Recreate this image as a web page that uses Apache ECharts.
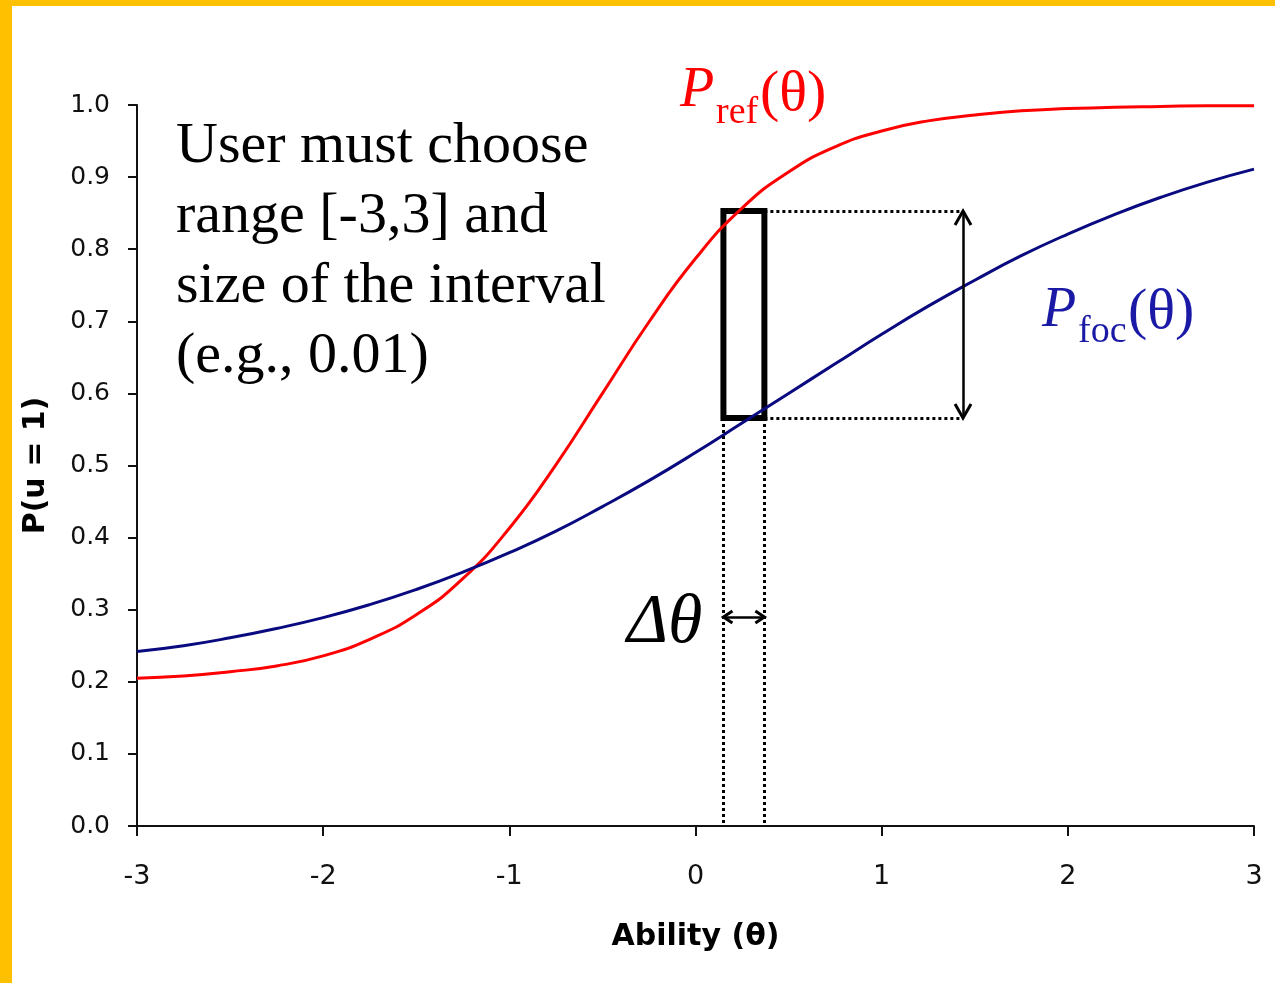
<!DOCTYPE html>
<html>
<head>
<meta charset="utf-8">
<script src="https://cdn.jsdelivr.net/npm/echarts@6/dist/echarts.min.js"></script>
<style>
  html, body { margin: 0; padding: 0; background: #ffffff; }
  #chart { width: 1275px; height: 983px; }
</style>
</head>
<body>
<div id="chart"></div>
<script>
// ---- data ----
const theta = [-3, -2.75, -2.5, -2.25, -2, -1.75, -1.5, -1.25, -1, -0.75, -0.5, -0.25,
               0, 0.25, 0.5, 0.75, 1, 1.25, 1.5, 1.75, 2, 2.25, 2.5, 2.75, 3];
const pRef = [0.205, 0.208, 0.214, 0.222, 0.236, 0.259, 0.293, 0.343, 0.413, 0.501, 0.600, 0.699,
              0.787, 0.857, 0.907, 0.942, 0.964, 0.978, 0.986, 0.992, 0.995, 0.997, 0.998, 0.999, 0.999];
const pFoc = [0.242, 0.250, 0.261, 0.274, 0.289, 0.307, 0.328, 0.352, 0.379, 0.409, 0.443, 0.479,
              0.518, 0.559, 0.600, 0.641, 0.682, 0.721, 0.757, 0.791, 0.821, 0.848, 0.872, 0.893, 0.911];
const xTickValues = [-3, -2, -1, 0, 1, 2, 3];
const yTickValues = [0.0, 0.1, 0.2, 0.3, 0.4, 0.5, 0.6, 0.7, 0.8, 0.9, 1.0];
// annotation values (in data units)
const boxTheta = [0.15, 0.37];      // interval edges
const boxP = [0.566, 0.853];        // P_foc and P_ref at the interval
const gapArrowTheta = 1.437;        // vertical double arrow position
const deltaArrowP = 0.29;           // height of the delta-theta arrow
const noteLines = ['User must choose', 'range [-3,3] and', 'size of the interval', '(e.g., 0.01)'];

const refSeries = theta.map((t, i) => [t, pRef[i]]);
const focSeries = theta.map((t, i) => [t, pFoc[i]]);

const chart = echarts.init(document.getElementById('chart'), null, { renderer: 'canvas' });

const dotted = { type: [3, 3], width: 3, color: '#000', cap: 'butt' };
const solid = { type: 'solid', width: 2.5, color: '#000' };

chart.setOption({
  animation: false,
  backgroundColor: '#ffffff',
  grid: { left: 137, right: 21, top: 105, bottom: 157, containLabel: false },
  xAxis: {
    type: 'value', min: -3, max: 3, interval: 1,
    name: 'Ability (θ)', nameLocation: 'middle', nameGap: 96,
    nameTextStyle: { fontFamily: 'DejaVu Sans', fontWeight: 'bold', fontSize: 30, color: '#000' },
    axisLine: { show: true, onZero: false, lineStyle: { color: '#111', width: 2 } },
    axisTick: { show: true, inside: false, length: 10, lineStyle: { color: '#111', width: 2 } },
    axisLabel: { margin: 37, fontFamily: 'DejaVu Sans', fontSize: 27, color: '#111',
                 formatter: v => xTickValues.includes(v) ? String(v) : '' },
    splitLine: { show: false }
  },
  yAxis: {
    type: 'value', min: 0, max: 1, interval: 0.1,
    name: 'P(u = 1)', nameLocation: 'middle', nameGap: 86, nameRotate: 90,
    nameTextStyle: { fontFamily: 'DejaVu Sans', fontWeight: 'bold', fontSize: 30, color: '#000' },
    axisLine: { show: true, onZero: false, lineStyle: { color: '#111', width: 2 } },
    axisTick: { show: true, inside: false, length: 9, lineStyle: { color: '#111', width: 2 } },
    axisLabel: { margin: 27, fontFamily: 'DejaVu Sans', fontSize: 25, color: '#111',
                 formatter: v => v.toFixed(1) },
    splitLine: { show: false }
  },
  series: [
    {
      name: 'Pref', type: 'line', data: refSeries, smooth: true, showSymbol: false,
      lineStyle: { color: '#ff0000', width: 3 }, z: 3
    },
    {
      name: 'Pfoc', type: 'line', data: focSeries, smooth: true, showSymbol: false,
      lineStyle: { color: '#0a0a80', width: 3 }, z: 3
    },
    {
      name: 'annot', type: 'line', data: [], silent: true, z: 4,
      markArea: {
        silent: true,
        itemStyle: { color: 'rgba(0,0,0,0)', borderColor: '#000', borderWidth: 6 },
        data: [[{ coord: [boxTheta[0], boxP[0]] }, { coord: [boxTheta[1], boxP[1]] }]]
      },
      markLine: {
        silent: true, symbol: ['none', 'none'], label: { show: false },
        animation: false,
        lineStyle: { width: 3, color: '#000' },
        data: [
          [{ coord: [boxTheta[1], boxP[1]], lineStyle: dotted }, { coord: [gapArrowTheta, boxP[1]] }],
          [{ coord: [boxTheta[1], boxP[0]], lineStyle: dotted }, { coord: [gapArrowTheta, boxP[0]] }],
          [{ coord: [boxTheta[0], boxP[0]], lineStyle: dotted }, { coord: [boxTheta[0], 0] }],
          [{ coord: [boxTheta[1], boxP[0]], lineStyle: dotted }, { coord: [boxTheta[1], 0] }],
          [{ coord: [gapArrowTheta, boxP[1]], lineStyle: solid }, { coord: [gapArrowTheta, boxP[0]] }],
          [{ coord: [boxTheta[0], deltaArrowP], lineStyle: solid }, { coord: [boxTheta[1], deltaArrowP] }]
        ]
      }
    }
  ]
});

// positions of annotation arrowheads from the chart's own scales
const px = (t, p) => chart.convertToPixel({ gridIndex: 0 }, [t, p]);
const aTop = px(gapArrowTheta, boxP[1]);
const aBot = px(gapArrowTheta, boxP[0]);
const dL = px(boxTheta[0], deltaArrowP);
const dR = px(boxTheta[1], deltaArrowP);

const serif = '"Liberation Serif", "Times New Roman", serif';
const head = (pts) => ({ type: 'polyline', shape: { points: pts }, style: { stroke: '#000', lineWidth: 3, fill: null }, z: 10 });

const graphics = [
  { type: 'rect', shape: { x: 0, y: 0, width: 1275, height: 6 }, style: { fill: '#FFC000' }, z: 20 },
  { type: 'rect', shape: { x: 0, y: 0, width: 12, height: 983 }, style: { fill: '#FFC000' }, z: 20 },
  head([[aTop[0] - 8, aTop[1] + 14], [aTop[0], aTop[1]], [aTop[0] + 8, aTop[1] + 14]]),
  head([[aBot[0] - 8, aBot[1] - 14], [aBot[0], aBot[1]], [aBot[0] + 8, aBot[1] - 14]]),
  head([[dL[0] + 9, dL[1] - 6], [dL[0], dL[1]], [dL[0] + 9, dL[1] + 6]]),
  head([[dR[0] - 9, dR[1] - 6], [dR[0], dR[1]], [dR[0] - 9, dR[1] + 6]]),
  // P_ref label
  { type: 'text', x: 680, y: 91, style: { text: 'P', font: 'italic 56px ' + serif, fill: '#ff0000', verticalAlign: 'middle' }, z: 10 },
  { type: 'text', x: 716, y: 113, style: { text: 'ref', font: '38px ' + serif, fill: '#ff0000', verticalAlign: 'middle' }, z: 10 },
  { type: 'text', x: 760, y: 95, style: { text: '(θ)', font: '58px ' + serif, fill: '#ff0000', verticalAlign: 'middle' }, z: 10 },
  // P_foc label
  { type: 'text', x: 1042, y: 311, style: { text: 'P', font: 'italic 56px ' + serif, fill: '#1a1aa6', verticalAlign: 'middle' }, z: 10 },
  { type: 'text', x: 1078, y: 332, style: { text: 'foc', font: '38px ' + serif, fill: '#1a1aa6', verticalAlign: 'middle' }, z: 10 },
  { type: 'text', x: 1128, y: 313, style: { text: '(θ)', font: '58px ' + serif, fill: '#1a1aa6', verticalAlign: 'middle' }, z: 10 },
  // delta theta
  { type: 'text', x: 627, y: 624, style: { text: 'Δθ', font: 'italic 70px ' + serif, fill: '#000', verticalAlign: 'middle' }, z: 10 }
];
const noteCenters = [147, 217, 287, 357];
noteLines.forEach((s, i) => {
  graphics.push({ type: 'text', x: 176, y: noteCenters[i], style: { text: s, font: '58px ' + serif, fill: '#000', verticalAlign: 'middle' }, z: 10 });
});

chart.setOption({ graphic: graphics });
</script>
</body>
</html>
